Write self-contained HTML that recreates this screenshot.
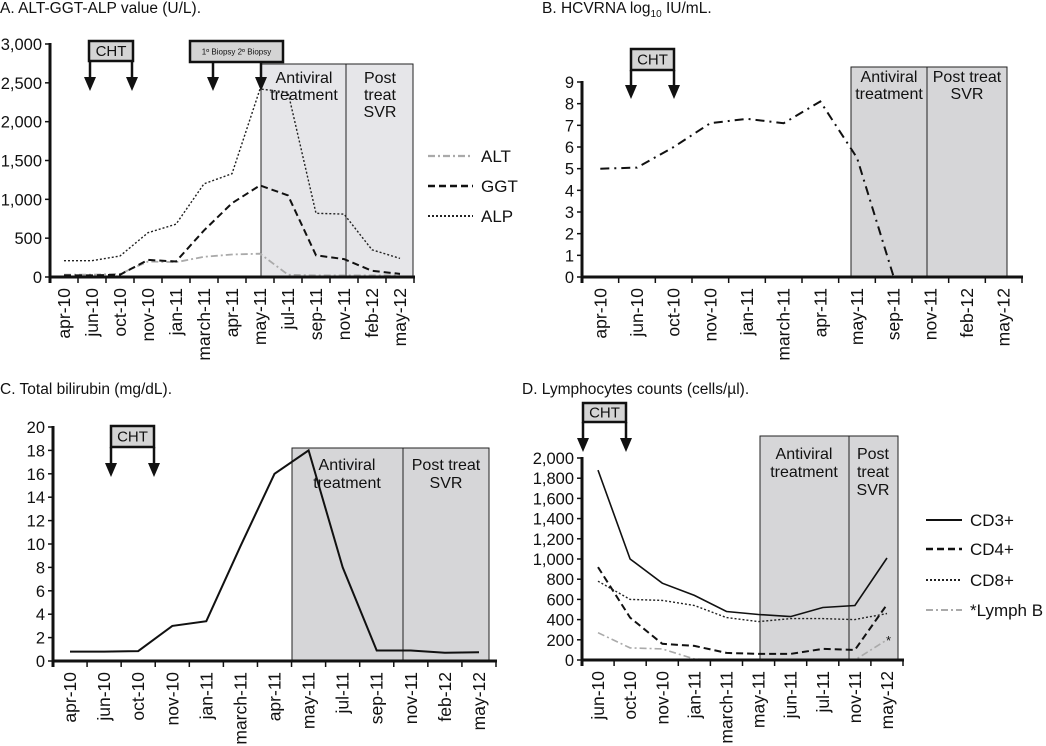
<!DOCTYPE html>
<html><head><meta charset="utf-8">
<style>
html,body{margin:0;padding:0;background:#fff;}
svg{display:block;}
text{font-family:"Liberation Sans","DejaVu Sans",sans-serif;fill:#111;}
</style></head>
<body>
<svg id="fig" width="1046" height="746" viewBox="0 0 1046 746" xmlns="http://www.w3.org/2000/svg">
<text x="0" y="13" font-size="15.5">A. ALT-GGT-ALP value (U/L).</text>
<text x="542" y="13" font-size="15.5">B. HCVRNA log<tspan font-size="10" dy="4">10</tspan><tspan dy="-4"> IU/mL.</tspan></text>
<text x="0" y="394" font-size="15.5">C. Total bilirubin (mg/dL).</text>
<text x="522" y="394" font-size="15.5">D. Lymphocytes counts (cells/µl).</text>
</svg>
<script>
// ---- Panel A data ----
const catsA = ["apr-10","jun-10","oct-10","nov-10","jan-11","march-11","apr-11","may-11","jul-11","sep-11","nov-11","feb-12","may-12"];
const altA = [30,30,40,200,190,260,290,300,30,20,20,20,20];
const ggtA = [20,20,30,220,200,600,950,1180,1050,280,230,80,40];
const alpA = [210,210,270,570,680,1200,1330,2420,2380,820,810,350,240];
const ticksA = [0,500,1000,1500,2000,2500,3000];
// ---- Panel B data ----
const catsB = ["apr-10","jun-10","oct-10","nov-10","jan-11","march-11","apr-11","may-11","sep-11","nov-11","feb-12","may-12"];
const hcvB = [5.0,5.05,6.0,7.1,7.3,7.1,8.1,5.5,0,null,null,null];
const ticksB = [0,1,2,3,4,5,6,7,8,9];
// ---- Panel C data ----
const catsC = ["apr-10","jun-10","oct-10","nov-10","jan-11","march-11","apr-11","may-11","jul-11","sep-11","nov-11","feb-12","may-12"];
const biliC = [0.8,0.8,0.85,3.0,3.4,9.8,16,18,8,0.9,0.9,0.7,0.75];
const ticksC = [0,2,4,6,8,10,12,14,16,18,20];
// ---- Panel D data ----
const catsD = ["jun-10","oct-10","nov-10","jan-11","march-11","may-11","jun-11","jul-11","nov-11","may-12"];
const cd3D = [1880,1000,760,640,480,450,430,520,540,1010];
const cd4D = [920,420,160,140,70,60,60,110,100,550];
const cd8D = [780,600,590,540,420,380,410,410,400,460];
const lymbD = [270,120,110,10,0,0,0,0,0,200];
const ticksD = [0,200,400,600,800,1000,1200,1400,1600,1800,2000];

const NS="http://www.w3.org/2000/svg";
const svg=document.getElementById('fig');
function mk(tag,attrs,parent){const e=document.createElementNS(NS,tag);for(const k in attrs)e.setAttribute(k,attrs[k]);(parent||svg).appendChild(e);return e;}
function fmt(v){return v>=1000?v.toLocaleString('en-US'):String(v);}

function panel(P){
  const g=mk('g',{});
  
  
  const n=P.cats.length, step=(P.x1-P.x0)/n;
  const xf=i=>P.x0+(i+0.5)*step;
  const yf=v=>P.y0-(v-0)/(P.vmax)*(P.y0-P.ytop);
  const sh=mk('rect',{x:P.s0,y:P.st,width:P.s2-P.s0,height:P.y0-P.st,fill:P.shade,stroke:'#222','stroke-width':1},g);
  
  
  mk('line',{x1:P.s1,x2:P.s1,y1:P.st,y2:P.y0,stroke:'#222','stroke-width':1},g);
  P.shadeLabels.forEach(l=>{const t=mk('text',{x:l[0],y:l[1],'font-size':16,'text-anchor':'middle'},g);t.textContent=l[2];
    
    });
  P.series.forEach(s=>{
    let d='',started=false;
    s.vals.forEach((v,i)=>{if(v===null)return;d+=(started?'L':'M')+xf(i).toFixed(1)+','+yf(v).toFixed(1);started=true;});
    const p=mk('path',{d:d,fill:'none',stroke:s.color,'stroke-width':s.w,'stroke-dasharray':s.dash||'none'},g);
    
    
  });
  mk('line',{x1:P.x0,x2:P.x0,y1:P.ytop-1,y2:P.y0+6,stroke:'#111','stroke-width':3},g);
  mk('line',{x1:P.x0,x2:P.x1+1,y1:P.y0,y2:P.y0,stroke:'#111','stroke-width':3},g);
  P.ticks.forEach(v=>{
    const y=yf(v);
    mk('line',{x1:P.x0-5,x2:P.x0,y1:y,y2:y,stroke:'#111','stroke-width':1.5},g);
    const t=mk('text',{x:P.x0-8,y:y+6,'font-size':16.5,'text-anchor':'end'},g);t.textContent=fmt(v);
    
    
  });
  for(let i=0;i<=n;i++){const x=P.x0+i*step;mk('line',{x1:x,x2:x,y1:P.y0,y2:P.y0+6,stroke:'#111','stroke-width':1.5},g);}
  P.cats.forEach((c,i)=>{
    const x=xf(i)+6, y=P.y0+11;
    const t=mk('text',{x:0,y:0,'font-size':17.5,'text-anchor':'end',transform:`translate(${x},${y}) rotate(-90)`},g);t.textContent=c;
    
    
  });
  P.boxes.forEach(b=>{
    const r=mk('rect',{x:b.x0,y:b.y0,width:b.x1-b.x0,height:b.y1-b.y0,fill:'#d4d4d4',stroke:'#111','stroke-width':2.5},g);
    
    
    const t=mk('text',{x:(b.x0+b.x1)/2,y:(b.y0+b.y1)/2+(b.small?3:5),'font-size':b.small?8:15,'text-anchor':'middle'},g);t.textContent=b.label;
    b.arrows.forEach(ax=>{
      mk('line',{x1:ax,x2:ax,y1:b.y1,y2:b.ay-10,stroke:'#111','stroke-width':2.5},g);
      const a=mk('polygon',{points:`${ax-6},${b.ay-12} ${ax+6},${b.ay-12} ${ax},${b.ay+2}`,fill:'#111'},g);
      
      
    });
  });
  (P.legend||[]).forEach(L=>{
    const s=P.series.find(q=>q.name===L.name);
    mk('line',{x1:L.lx0,x2:L.lx1,y1:L.y,y2:L.y,stroke:s.color,'stroke-width':s.w+0.5,'stroke-dasharray':s.dash||'none'},g);
    const t=mk('text',{x:L.tx,y:L.y+6,'font-size':17},g);t.textContent=L.label;
    
    
  });
}

panel({id:'a',cats:catsA,x0:50,x1:414,y0:277,ytop:44,vmax:3000,ticks:ticksA,
  s0:261,s1:346,s2:413,st:64,shade:'#e6e6e9',
  shadeLabels:[[304,83,'Antiviral'],[304,100,'treatment'],[380,83,'Post'],[380,100,'treat'],[380,117,'SVR']],
  series:[{name:'alt',vals:altA,color:'#aaa',w:1.8,dash:'7,3,2,3'},{name:'ggt',vals:ggtA,color:'#111',w:2,dash:'7,4'},{name:'alp',vals:alpA,color:'#222',w:1.4,dash:'2,2'}],
  boxes:[{name:'cht',label:'CHT',x0:89,x1:133,y0:41,y1:61,ay:89,arrows:[90,132]},
         {name:'biopsy',label:'1º Biopsy  2º Biopsy',small:true,x0:190,x1:283,y0:41,y1:62,ay:89,arrows:[213,261]}],
  legend:[{name:'alt',label:'ALT',y:156,lx0:428,lx1:473,tx:481},{name:'ggt',label:'GGT',y:186,lx0:428,lx1:473,tx:481},{name:'alp',label:'ALP',y:216,lx0:428,lx1:473,tx:481}]
});
panel({id:'b',cats:catsB,x0:582,x1:1022,y0:277,ytop:82,vmax:9,ticks:ticksB,
  s0:851,s1:927,s2:1007,st:67,shade:'#d6d6d8',
  shadeLabels:[[889,82,'Antiviral'],[889,99,'treatment'],[967,82,'Post treat'],[967,99,'SVR']],
  series:[{name:'hcvrna',vals:hcvB,color:'#111',w:2,dash:'9,5,2,5'}],
  boxes:[{name:'cht',label:'CHT',x0:631,x1:674,y0:49,y1:70,ay:97,arrows:[631,674]}]
});
panel({id:'c',cats:catsC,x0:53,x1:496,y0:661,ytop:427,vmax:20,ticks:ticksC,
  s0:292,s1:403,s2:489,st:448,shade:'#d6d6d8',
  shadeLabels:[[347,470,'Antiviral'],[347,488,'treatment'],[446,470,'Post treat'],[446,488,'SVR']],
  series:[{name:'bilirubin',vals:biliC,color:'#111',w:2}],
  boxes:[{name:'cht',label:'CHT',x0:111,x1:154,y0:426,y1:447,ay:475,arrows:[111,154]}]
});
panel({id:'d',cats:catsD,x0:582,x1:903,y0:660,ytop:458,vmax:2000,ticks:ticksD,
  s0:760,s1:849,s2:898,st:436,shade:'#d6d6d8',
  shadeLabels:[[804,459,'Antiviral'],[804,477,'treatment'],[873,459,'Post'],[873,477,'treat'],[873,495,'SVR']],
  series:[{name:'cd3',vals:cd3D,color:'#111',w:1.6},{name:'cd4',vals:cd4D,color:'#111',w:2,dash:'7,4'},{name:'cd8',vals:cd8D,color:'#222',w:1.4,dash:'2,2'},{name:'lymph-b',vals:lymbD,color:'#aaa',w:1.6,dash:'7,3,2,3'}],
  boxes:[{name:'cht',label:'CHT',x0:583,x1:626,y0:403,y1:422,ay:450,arrows:[583,626]}],
  legend:[{name:'cd3',label:'CD3+',y:520,lx0:926,lx1:962,tx:970},{name:'cd4',label:'CD4+',y:549,lx0:926,lx1:962,tx:970},{name:'cd8',label:'CD8+',y:580,lx0:926,lx1:962,tx:970},{name:'lymph-b',label:'*Lymph B',y:610,lx0:926,lx1:962,tx:970}]
});
const ast=mk('text',{x:886,y:645,'font-size':13});ast.textContent='*';


</script>
</body></html>
